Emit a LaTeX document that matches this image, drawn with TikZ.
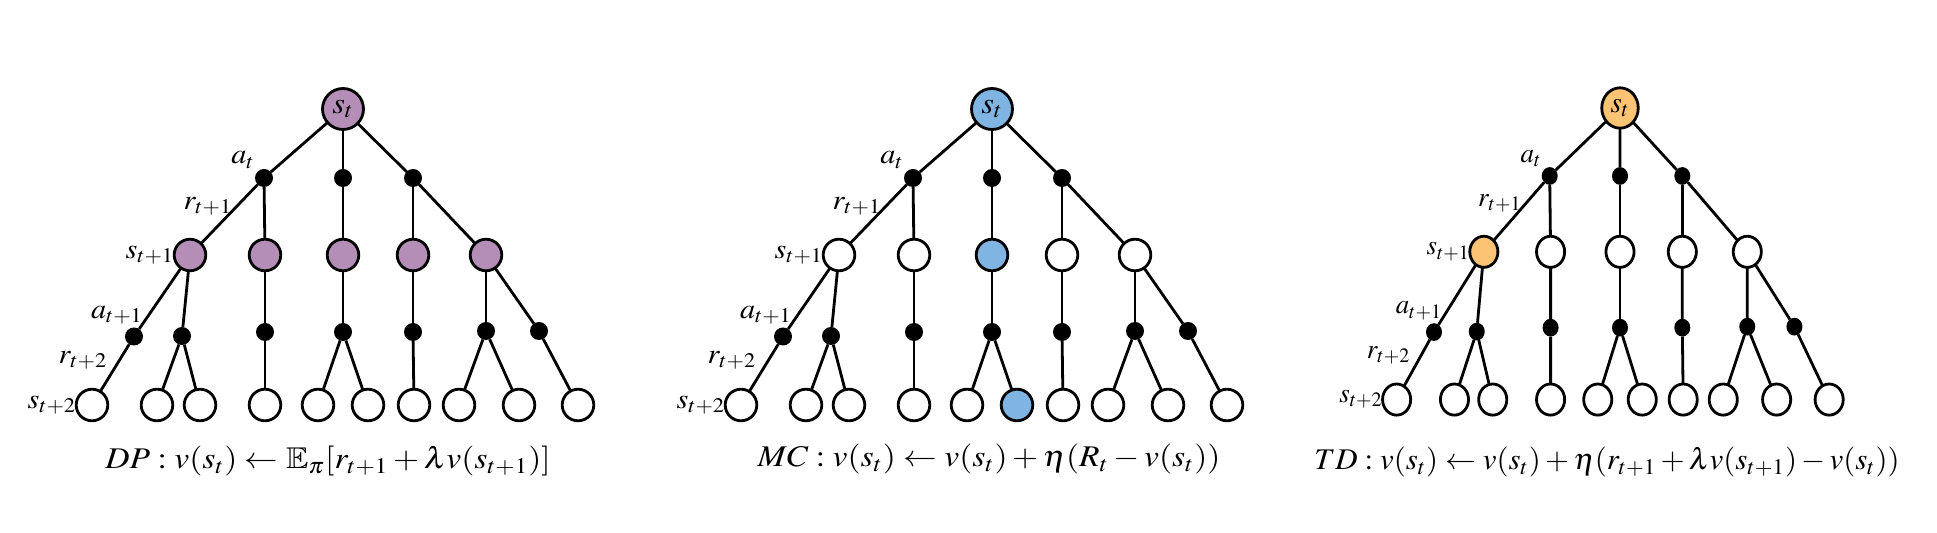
\documentclass[tikz,border=0pt]{standalone}
\usepackage{graphicx}
\usepackage{amssymb}
\usepackage{mathptmx}
\usepackage{amssymb}
\definecolor{dppurple}{HTML}{B48EB7}
\definecolor{mcblue}{HTML}{80B5E3}
\definecolor{tdorange}{HTML}{FDC374}
\tikzset{
  every node/.style={inner sep=0pt, outer sep=0pt},
  statebox/.style={circle, draw=black, line width=1.4pt, fill=white, minimum size=15.8pt},
  rootbox/.style={statebox, minimum size=20.5pt, font=\fontsize{15}{17}\selectfont},
  actdot/.style={circle, fill=black, minimum size=9pt},
  link/.style={line width=1.4pt},
  lab/.style={font=\fontsize{14}{16}\selectfont},
  formula/.style={font=\fontsize{15}{18}\selectfont, anchor=base},
  rootc/.style={}, s1c/.style={}, s2c/.style={}, s3c/.style={}, s4c/.style={}, s5c/.style={},
  l6c/.style={}
}
\newcommand\hs[1]{\scalebox{1.08}[1]{#1}}
\newcommand\mytree[1]{%
  \node[rootbox,rootc] (#1r) at (0,0) {\hs{$s_t$}};
  \node[actdot] (#1a1) at (-79,69) {};
  \node[actdot] (#1a2) at (0,69) {};
  \node[actdot] (#1a3) at (70,69) {};
  \node[statebox,s1c] (#1s1) at (-153,146) {};
  \node[statebox,s2c] (#1s2) at (-78,146) {};
  \node[statebox,s3c] (#1s3) at (0,146) {};
  \node[statebox,s4c] (#1s4) at (70,146) {};
  \node[statebox,s5c] (#1s5) at (143,146) {};
  \node[actdot] (#1b1) at (-209,227.5) {};
  \node[actdot] (#1b2) at (-161,227) {};
  \node[actdot] (#1b3) at (-78,223) {};
  \node[actdot] (#1b4) at (0,223) {};
  \node[actdot] (#1b5) at (70,223) {};
  \node[actdot] (#1b6) at (143,222) {};
  \node[actdot] (#1b7) at (196,222) {};
  \node[statebox] (#1l1) at (-251,296) {};
  \node[statebox] (#1l2) at (-186,296) {};
  \node[statebox] (#1l3) at (-143,296) {};
  \node[statebox] (#1l4) at (-78,296) {};
  \node[statebox] (#1l5) at (-25,296) {};
  \node[statebox,l6c] (#1l6) at (25,296) {};
  \node[statebox] (#1l7) at (71,296) {};
  \node[statebox] (#1l8) at (116,296) {};
  \node[statebox] (#1l9) at (176,296) {};
  \node[statebox] (#1l10) at (235,296) {};
  \draw[link] (#1r) -- (#1a1);
  \draw[link] (#1r) -- (#1a2);
  \draw[link] (#1r) -- (#1a3);
  \draw[link] (#1a1) -- (#1s1);
  \draw[link] (#1a1) -- (#1s2);
  \draw[link] (#1a2) -- (#1s3);
  \draw[link] (#1a3) -- (#1s4);
  \draw[link] (#1a3) -- (#1s5);
  \draw[link] (#1s1) -- (#1b1);
  \draw[link] (#1s1) -- (#1b2);
  \draw[link] (#1s2) -- (#1b3);
  \draw[link] (#1s3) -- (#1b4);
  \draw[link] (#1s4) -- (#1b5);
  \draw[link] (#1s5) -- (#1b6);
  \draw[link] (#1s5) -- (#1b7);
  \draw[link] (#1b1) -- (#1l1);
  \draw[link] (#1b2) -- (#1l2);
  \draw[link] (#1b2) -- (#1l3);
  \draw[link] (#1b3) -- (#1l4);
  \draw[link] (#1b4) -- (#1l5);
  \draw[link] (#1b4) -- (#1l6);
  \draw[link] (#1b5) -- (#1l7);
  \draw[link] (#1b6) -- (#1l8);
  \draw[link] (#1b6) -- (#1l9);
  \draw[link] (#1b7) -- (#1l10);
  \node[lab] (#1la) at (-100,51) {\hs{$a_t$}};
  \node[lab] (#1lr) at (-135,97) {\hs{$r_{t+1}$}};
  \node[lab, anchor=east] (#1ls) at (#1s1.west) {\hs{$s_{t+1}$}};
  \node[lab] (#1la2) at (-226,206) {\hs{$a_{t+1}$}};
  \node[lab] (#1lr2) at (-260,251) {\hs{$r_{t+2}$}};
  \node[lab, anchor=east] (#1ls2) at (#1l1.west) {\hs{$s_{t+2}$}};
}
\begin{document}
\begin{tikzpicture}[x=0.5pt,y=-0.5pt]
\useasboundingbox (0,0) rectangle (1937,533);
\begin{scope}[shift={(343,109)},
  rootc/.style={fill=dppurple}, s1c/.style={fill=dppurple}, s2c/.style={fill=dppurple},
  s3c/.style={fill=dppurple}, s4c/.style={fill=dppurple}, s5c/.style={fill=dppurple}]
  \mytree{A}
\end{scope}
\begin{scope}[shift={(992,109)},
  rootc/.style={fill=mcblue}, s3c/.style={fill=mcblue}, l6c/.style={fill=mcblue}]
  \mytree{B}
\end{scope}
\begin{scope}[shift={(1620,108)}, xscale=0.89, yscale=0.985, transform shape,
  rootc/.style={fill=tdorange}, s1c/.style={fill=tdorange}]
  \mytree{C}
\end{scope}
\node[formula] (fdp) at (328,469) {\scalebox{1.12}[1]{$DP : v(s_t) \leftarrow \mathbb{E}_\pi[r_{t+1} + \lambda v(s_{t+1})]$}};
\node[formula] (fmc) at (989,467) {\scalebox{1.12}[1]{$MC : v(s_t) \leftarrow v(s_t) + \eta(R_t - v(s_t))$}};
\node[formula] (ftd) at (1607,470) {\scalebox{1.03}[1]{$TD : v(s_t) \leftarrow v(s_t) + \eta(r_{t+1} + \lambda v(s_{t+1}) - v(s_t))$}};
\end{tikzpicture}
\end{document}
